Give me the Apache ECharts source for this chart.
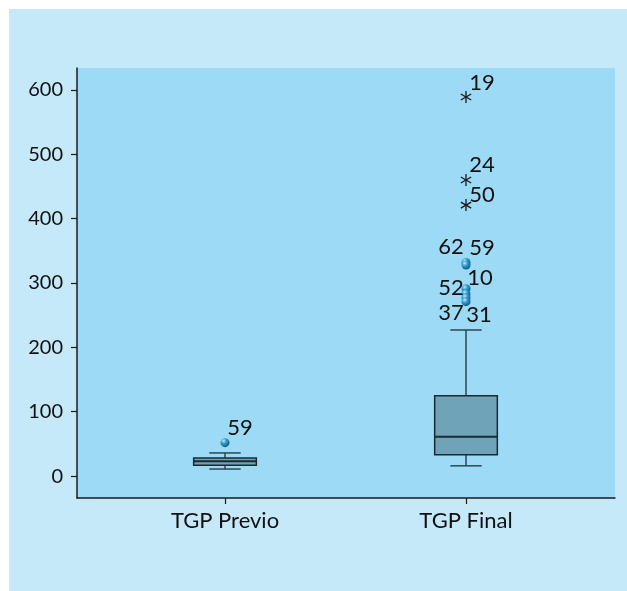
<!DOCTYPE html>
<html>
<head>
<meta charset="utf-8">
<script src="https://cdn.jsdelivr.net/npm/echarts@6/dist/echarts.min.js"></script>
<style>
  html, body { margin: 0; padding: 0; background: #ffffff; }
  #chart { position: absolute; left: 9px; top: 9px; width: 618px; height: 582px; background: #c6e9f9; }
</style>
</head>
<body>
<div id="chart"></div>
<script>
// categories and box statistics [min, Q1, median, Q3, max]
var categories = ['TGP Previo', 'TGP Final'];
var boxStats = [
  [11, 17, 23, 28, 36],
  [16, 33, 61, 125, 227]
];
// outliers (circles): [category index, value, case id]
var outliers = [
  [0, 52, '59'],
  [1, 332, '62'],
  [1, 328, '59'],
  [1, 291, '10'],
  [1, 283, '52'],
  [1, 277, '37'],
  [1, 271, '31']
];
// extreme values (asterisks): [category index, value, case id]
var extremes = [
  [1, 589, '19'],
  [1, 460, '24'],
  [1, 421, '50']
];
var yTicks = [0, 100, 200, 300, 400, 500, 600];

// label offsets (px) per point, only styling
var labelOffset = {
  '0-59': [15, -15],
  '1-62': [-15, -15],
  '1-59': [16, -17],
  '1-10': [14, -11],
  '1-52': [-15, -6],
  '1-37': [-15, 15],
  '1-31': [13, 13],
  '1-19': [16, -14],
  '1-24': [16, -15],
  '1-50': [16, -10]
};

var FONT = 'Lato';
var chart = echarts.init(document.getElementById('chart'));

function boxItem(params, api) {
  var x = api.value(0);
  var pLow = api.coord([x, api.value(1)]);
  var pQ1 = api.coord([x, api.value(2)]);
  var pMed = api.coord([x, api.value(3)]);
  var pQ3 = api.coord([x, api.value(4)]);
  var pHigh = api.coord([x, api.value(5)]);
  var bw = api.size([1, 0])[0] * 0.26;
  var cw = bw / 2;
  var cx = pMed[0];
  var edge = '#1b2a31';
  var wh = '#2e4650';
  return {
    type: 'group',
    children: [
      { type: 'line', shape: { x1: cx, y1: pQ3[1], x2: cx, y2: pHigh[1] }, style: { stroke: wh, lineWidth: 1.5 } },
      { type: 'line', shape: { x1: cx, y1: pQ1[1], x2: cx, y2: pLow[1] }, style: { stroke: wh, lineWidth: 1.5 } },
      { type: 'line', shape: { x1: cx - cw / 2, y1: pHigh[1], x2: cx + cw / 2, y2: pHigh[1] }, style: { stroke: wh, lineWidth: 1.5 } },
      { type: 'line', shape: { x1: cx - cw / 2, y1: pLow[1], x2: cx + cw / 2, y2: pLow[1] }, style: { stroke: wh, lineWidth: 1.5 } },
      { type: 'rect', shape: { x: cx - bw / 2, y: pQ3[1], width: bw, height: pQ1[1] - pQ3[1] },
        style: { fill: '#6fa3b7', stroke: edge, lineWidth: 1.5 } },
      { type: 'line', shape: { x1: cx - bw / 2, y1: pMed[1], x2: cx + bw / 2, y2: pMed[1] }, style: { stroke: edge, lineWidth: 2 } }
    ]
  };
}

function starItem(params, api) {
  var e = extremes[params.dataIndex];
  var p = api.coord([api.value(0), api.value(1)]);
  var r = 6;
  var kids = [];
  [90, 30, -30].forEach(function (a) {
    var dx = r * Math.cos(a * Math.PI / 180), dy = r * Math.sin(a * Math.PI / 180);
    kids.push({ type: 'line', shape: { x1: p[0] - dx, y1: p[1] - dy, x2: p[0] + dx, y2: p[1] + dy },
      style: { stroke: '#1a1a1a', lineWidth: 1.3 } });
  });
  var off = labelOffset[e[0] + '-' + e[2]] || [15, -12];
  kids.push({ type: 'text', x: p[0] + off[0], y: p[1] + off[1],
    style: { text: e[2], font: '22px ' + FONT, fill: '#111', align: 'center', verticalAlign: 'middle' } });
  return { type: 'group', children: kids };
}

var option = {
  animation: false,
  grid: {
    left: 68, top: 59, right: 12, bottom: 93,
    show: true, backgroundColor: '#9cdaf6', borderWidth: 0
  },
  xAxis: {
    type: 'value',
    min: 1 - 148 / 241,
    max: 2 + 149 / 241,
    splitLine: { show: false },
    axisLine: { show: true, onZero: false, lineStyle: { color: '#1a1a1a', width: 1.5 } },
    axisTick: { show: true, length: 6, customValues: [1, 2], lineStyle: { color: '#1a1a1a', width: 1.2 } },
    axisLabel: {
      customValues: [1, 2],
      margin: 12,
      color: '#111', fontFamily: FONT, fontSize: 22,
      formatter: function (v) { return categories[Math.round(v) - 1] || ''; }
    }
  },
  yAxis: {
    type: 'value',
    min: -34,
    max: 634,
    splitLine: { show: false },
    axisLine: { show: true, onZero: false, lineStyle: { color: '#1a1a1a', width: 1.5 } },
    axisTick: { show: true, length: 6, customValues: yTicks, lineStyle: { color: '#1a1a1a', width: 1.2 } },
    axisLabel: { customValues: yTicks, margin: 14, color: '#111', fontFamily: FONT, fontSize: 20 }
  },
  series: [
    {
      type: 'custom',
      renderItem: boxItem,
      data: boxStats.map(function (b, i) { return [i + 1].concat(b); }),
      z: 2
    },
    {
      type: 'scatter',
      symbol: 'circle',
      symbolSize: 9,
      z: 3,
      itemStyle: {
        opacity: 1,
        color: new echarts.graphic.RadialGradient(0.35, 0.3, 0.7, [
          { offset: 0, color: '#bfe9fb' },
          { offset: 0.45, color: '#2d9bd0' },
          { offset: 1, color: '#0d5e8a' }
        ])
      },
      label: {
        show: true,
        color: '#111', fontFamily: FONT, fontSize: 22,
        textBorderWidth: 0,
        position: 'inside',
        formatter: function (p) { return outliers[p.dataIndex][2]; }
      },
      data: outliers.map(function (o) {
        return {
          value: [o[0] + 1, o[1]],
          label: { offset: labelOffset[o[0] + '-' + o[2]] || [15, -12] }
        };
      })
    },
    {
      type: 'custom',
      renderItem: starItem,
      z: 3,
      data: extremes.map(function (e) { return [e[0] + 1, e[1]]; })
    }
  ]
};
chart.setOption(option);
</script>
</body>
</html>
